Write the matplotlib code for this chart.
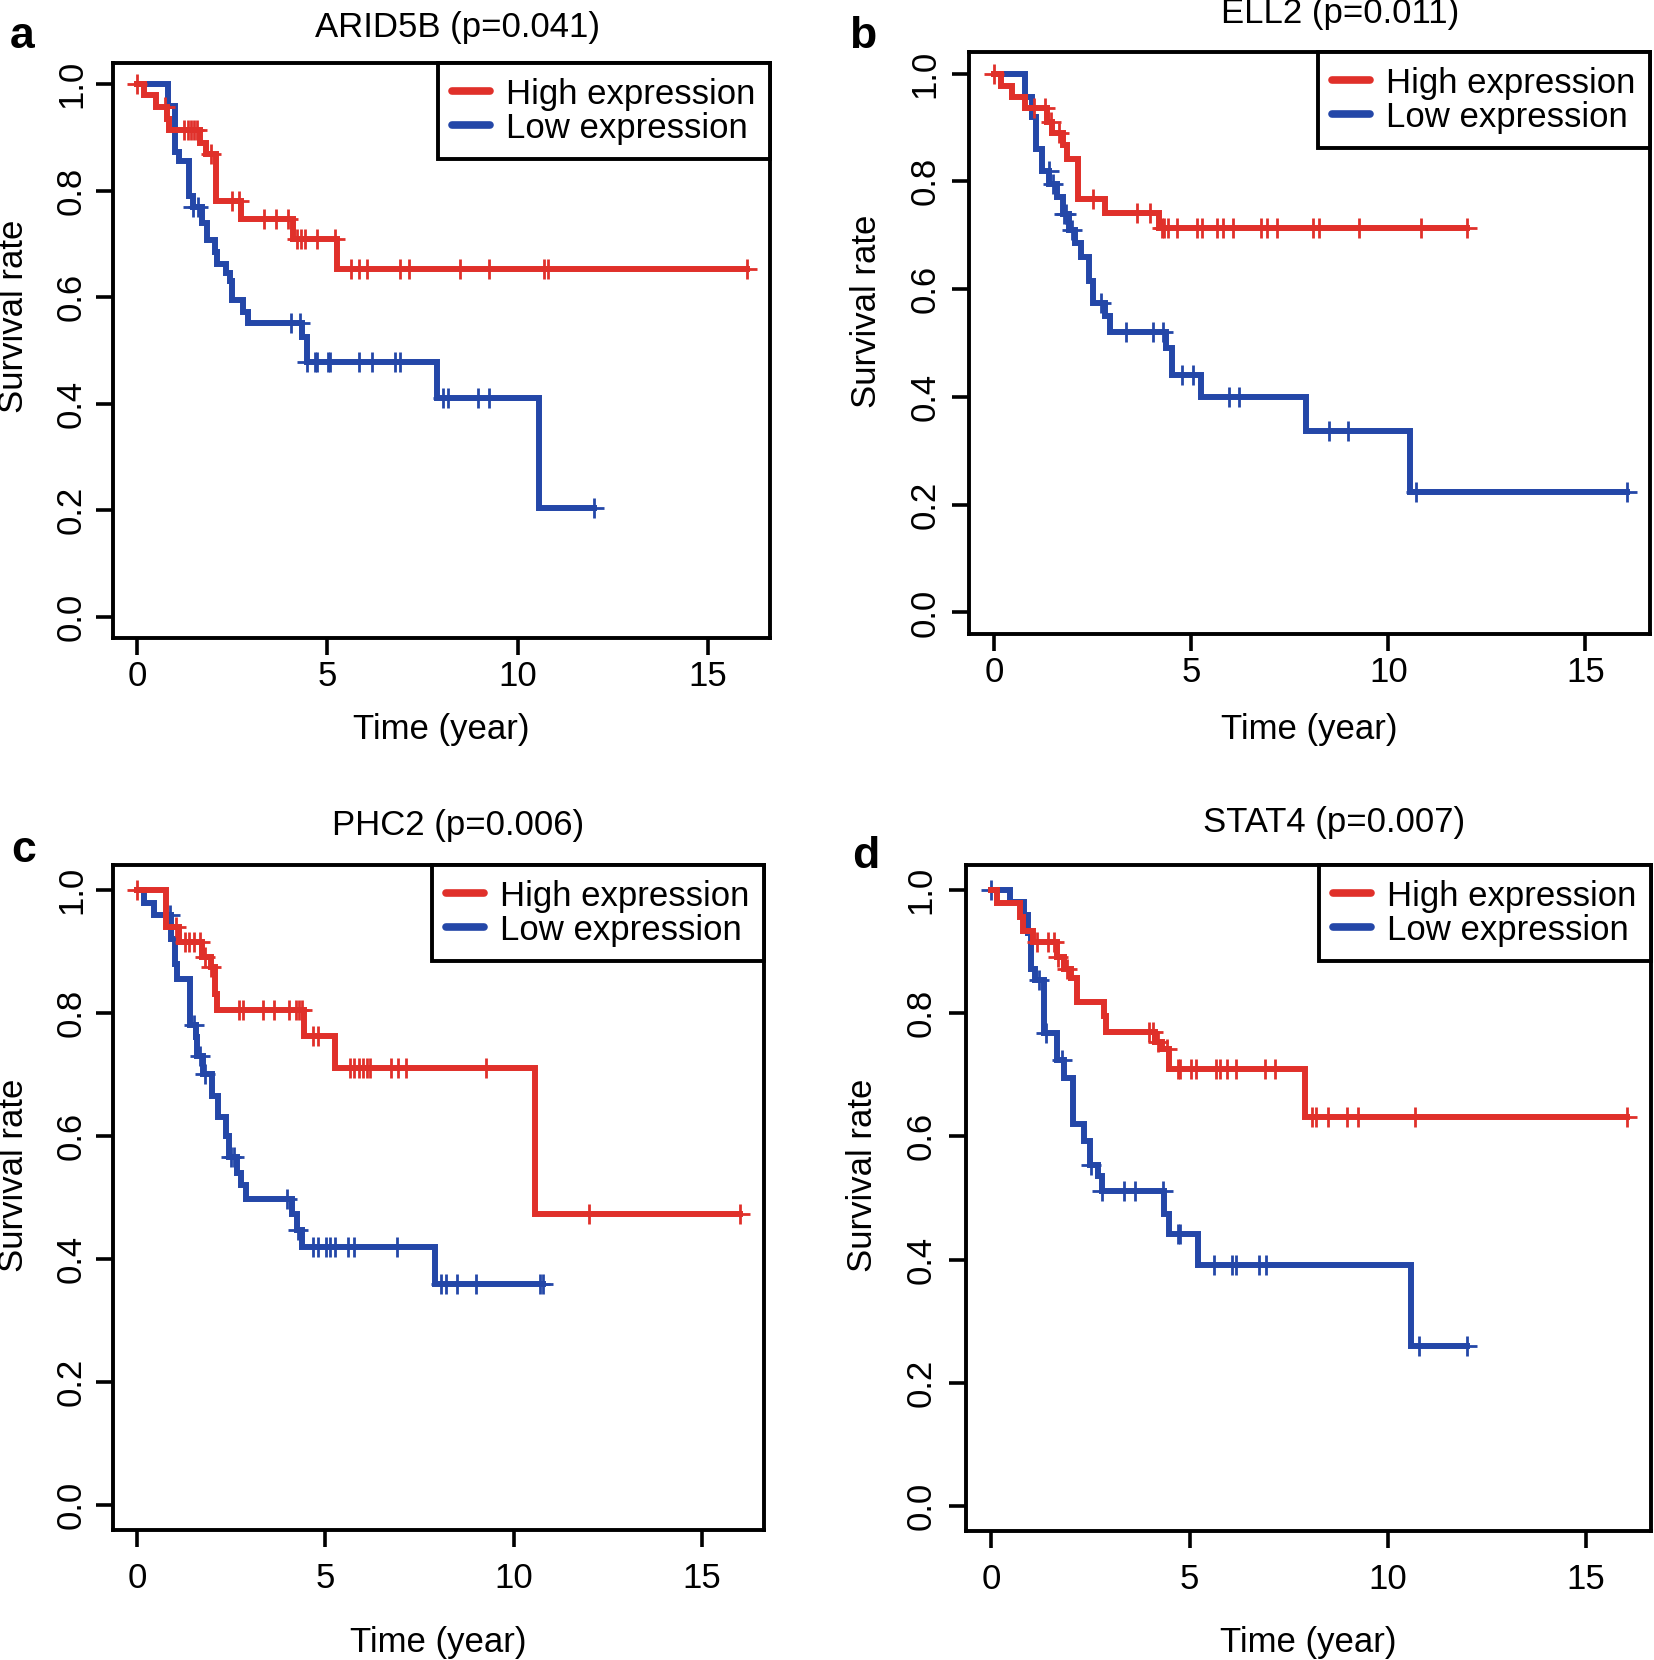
import numpy as np
import matplotlib
matplotlib.use("Agg")
import matplotlib.pyplot as plt
from matplotlib.lines import Line2D

plt.rcParams['font.family'] = ['Liberation Sans', 'DejaVu Sans']

RED = '#E0302A'
BLUE = '#2447A8'

# ---- data: step times / survival after step, censor times ----
# a: ARID5B
a_hi_t = [0.18, 0.49, 0.78, 0.84, 1.66, 1.81, 2.07, 2.73, 4.10, 5.25]
a_hi_s = [0.980, 0.957, 0.935, 0.915, 0.890, 0.870, 0.780, 0.747, 0.710, 0.654]
a_hi_c = [0.0, 0.72, 1.24, 1.32, 1.40, 1.50, 1.58, 1.95, 2.50, 2.67, 3.33, 3.64, 3.95,
          4.20, 4.30, 4.40, 4.73, 5.19, 5.62, 5.82, 6.05, 6.90, 7.14, 8.49, 9.26,
          10.70, 10.80, 16.04]
a_lo_t = [0.81, 1.00, 1.10, 1.35, 1.47, 1.70, 1.82, 2.04, 2.10, 2.33, 2.44, 2.50,
          2.78, 2.90, 4.33, 4.45, 7.88, 10.57]
a_lo_s = [0.960, 0.873, 0.855, 0.790, 0.770, 0.740, 0.707, 0.685, 0.663, 0.645, 0.630,
          0.595, 0.573, 0.551, 0.526, 0.479, 0.410, 0.204]
a_lo_c = [1.47, 1.60, 4.04, 4.27, 4.45, 4.67, 4.73, 5.02, 5.07, 5.82, 6.16, 6.79, 6.90,
          8.05, 8.17, 8.97, 9.26, 12.0]

# b: ELL2
b_hi_t = [0.17, 0.45, 0.77, 1.34, 1.47, 1.75, 1.84, 2.13, 2.81, 4.19]
b_hi_s = [0.977, 0.956, 0.936, 0.910, 0.890, 0.867, 0.842, 0.768, 0.742, 0.713]
b_hi_c = [0.0, 1.02, 1.28, 1.45, 1.64, 2.51, 3.62, 3.96, 4.25, 4.30, 4.42, 4.64, 5.15,
          5.27, 5.66, 5.80, 6.06, 6.77, 6.93, 7.17, 8.10, 8.24, 9.26, 10.84, 12.0]
b_lo_t = [0.77, 0.96, 1.05, 1.20, 1.40, 1.60, 1.75, 1.90, 2.05, 2.20, 2.40, 2.50, 2.80,
          2.95, 4.35, 4.50, 5.25, 7.90, 10.55]
b_lo_s = [0.957, 0.920, 0.860, 0.820, 0.795, 0.770, 0.740, 0.710, 0.685, 0.660, 0.615,
          0.575, 0.550, 0.520, 0.490, 0.440, 0.400, 0.336, 0.223]
b_lo_c = [1.38, 1.50, 1.76, 1.83, 1.98, 2.72, 3.34, 4.02, 4.28, 4.76, 5.04, 5.95, 6.20,
          8.50, 8.98, 10.70, 16.05]

# c: PHC2
c_hi_t = [0.77, 1.10, 1.73, 1.96, 2.08, 2.13, 4.44, 5.25, 10.55]
c_hi_s = [0.940, 0.915, 0.890, 0.875, 0.830, 0.805, 0.763, 0.711, 0.473]
c_hi_c = [0.0, 1.04, 1.27, 1.38, 1.50, 1.67, 1.79, 1.97, 2.71, 2.80, 3.34, 3.63, 4.04,
          4.21, 4.30, 4.38, 4.67, 4.79, 5.65, 5.77, 5.88, 6.00, 6.11, 6.19, 6.75, 6.92,
          7.15, 9.25, 12.0, 16.0]
c_lo_t = [0.17, 0.46, 0.90, 1.00, 1.07, 1.40, 1.55, 1.60, 1.75, 2.00, 2.15, 2.35, 2.45,
          2.65, 2.75, 2.90, 4.10, 4.25, 4.38, 7.90]
c_lo_s = [0.978, 0.959, 0.920, 0.880, 0.855, 0.780, 0.760, 0.730, 0.700, 0.665, 0.630,
          0.600, 0.565, 0.540, 0.520, 0.498, 0.474, 0.448, 0.420, 0.359]
c_lo_c = [0.87, 1.50, 1.67, 1.79, 2.48, 2.58, 3.98, 4.27, 4.67, 4.79, 5.02, 5.13, 5.25,
          5.60, 5.77, 6.90, 8.07, 8.19, 8.48, 9.00, 10.69, 10.78]

# d: STAT4
d_hi_t = [0.15, 0.71, 0.79, 1.05, 1.66, 1.83, 2.00, 2.17, 2.85, 2.90, 4.14, 4.30, 4.48, 7.90]
d_hi_s = [0.978, 0.955, 0.933, 0.915, 0.890, 0.872, 0.857, 0.818, 0.795, 0.769, 0.753,
          0.742, 0.710, 0.631]
d_hi_c = [1.16, 1.42, 1.57, 1.69, 1.91, 3.97, 4.08, 4.20, 4.42, 4.70, 4.76, 5.04, 5.15,
          5.66, 5.77, 5.94, 6.16, 6.90, 7.15, 8.08, 8.19, 8.50, 8.98, 9.26, 10.69, 16.03]
d_lo_t = [0.48, 0.82, 0.93, 1.00, 1.10, 1.33, 1.66, 1.83, 2.06, 2.34, 2.50, 2.68, 2.79,
          4.36, 4.48, 5.20, 10.58]
d_lo_s = [0.980, 0.959, 0.930, 0.872, 0.854, 0.767, 0.724, 0.695, 0.620, 0.593, 0.553,
          0.535, 0.512, 0.474, 0.442, 0.391, 0.260]
d_lo_c = [0.0, 1.21, 1.38, 1.78, 2.51, 2.79, 3.35, 3.63, 4.34, 4.70, 4.76, 5.62, 6.07,
          6.16, 6.76, 6.93, 10.80, 12.0]

titles = ['ARID5B (p=0.041)', 'ELL2 (p=0.011)', 'PHC2 (p=0.006)', 'STAT4 (p=0.007)']
letters = ['a', 'b', 'c', 'd']
xticks = [0, 5, 10, 15]
yticks = [0.0, 0.2, 0.4, 0.6, 0.8, 1.0]

panels = [
    (a_hi_t, a_hi_s, a_hi_c, a_lo_t, a_lo_s, a_lo_c),
    (b_hi_t, b_hi_s, b_hi_c, b_lo_t, b_lo_s, b_lo_c),
    (c_hi_t, c_hi_s, c_hi_c, c_lo_t, c_lo_s, c_lo_c),
    (d_hi_t, d_hi_s, d_hi_c, d_lo_t, d_lo_s, d_lo_c),
]

W, H = 1654, 1660
fig = plt.figure(figsize=(W / 100, H / 100), dpi=100)


def px(l, t, r, b):
    return [l / W, 1 - b / H, (r - l) / W, (b - t) / H]


# axes boxes in pixels (left, top, right, bottom)
boxes = [(113, 63, 770, 638), (969, 52, 1650, 634),
         (113, 865, 764, 1530), (966, 865, 1651, 1531)]
title_xy = [(458, 27), (1340, 13), (458, 826), (1334, 822)]
letter_xy = [(22, 37), (863, 37), (24, 850), (866, 856)]
ylab_xy = [(14, 316), (866, 311), (14, 1175), (863, 1175)]
xlab_y = [729, 729, 1642, 1642]
xpad = [4.0, 4.0, 11.0, 11.0]
ypad = [6.0, 8.0, 6.0, 8.5]


def step_curve(ax, t, s, c, color):
    end = max(max(c), max(t))
    tt = np.concatenate([[0.0], t, [end]])
    ss = np.concatenate([[1.0], s, [s[-1]]])
    ax.step(tt, ss, where='post', color=color, lw=4.3, solid_joinstyle='miter')
    idx = np.searchsorted(tt, c, side='right') - 1
    ax.plot(c, ss[idx], ls='none', marker='+', ms=15, mew=2.0, color=color)


for i, (hi_t, hi_s, hi_c, lo_t, lo_s, lo_c) in enumerate(panels):
    ax = fig.add_axes(px(*boxes[i]))
    step_curve(ax, lo_t, lo_s, lo_c, BLUE)
    step_curve(ax, hi_t, hi_s, hi_c, RED)
    ax.set_xlim(-0.64, 16.64)
    ax.set_ylim(-0.04, 1.04)
    ax.set_xticks(xticks)
    ax.set_xticklabels([str(v) for v in xticks])
    ax.set_yticks(yticks)
    ax.set_yticklabels(['%.1f' % v for v in yticks], rotation=90, va='center')
    ax.tick_params(axis='x', length=12, width=2.6, labelsize=25, pad=xpad[i])
    ax.tick_params(axis='y', length=12, width=2.6, labelsize=25, pad=ypad[i])
    for sp in ax.spines.values():
        sp.set_linewidth(2.8)

    handles = [Line2D([], [], color=RED, lw=5.5, solid_capstyle='round'),
               Line2D([], [], color=BLUE, lw=5.5, solid_capstyle='round')]
    leg = ax.legend(handles, ['High expression', 'Low expression'], loc='upper right',
                    bbox_to_anchor=(1, 1), borderaxespad=0, fontsize=25,
                    fancybox=False, framealpha=1, edgecolor='black',
                    handlelength=1.1, handletextpad=0.45, labelspacing=0.03,
                    borderpad=0.42)
    leg.get_frame().set_linewidth(2.8)

    fig.text(title_xy[i][0] / W, 1 - title_xy[i][1] / H, titles[i], fontsize=25,
             ha='center', va='center')
    fig.text(letter_xy[i][0] / W, 1 - letter_xy[i][1] / H, letters[i], fontsize=32,
             fontweight='bold', ha='center', va='center')
    fig.text(ylab_xy[i][0] / W, 1 - ylab_xy[i][1] / H, 'Survival rate', fontsize=25,
             rotation=90, ha='center', va='center')
    l, t, r, b = boxes[i]
    fig.text((l + r) / 2 / W, 1 - xlab_y[i] / H, 'Time (year)', fontsize=25,
             ha='center', va='center')

fig.savefig('out.png', dpi=100)
